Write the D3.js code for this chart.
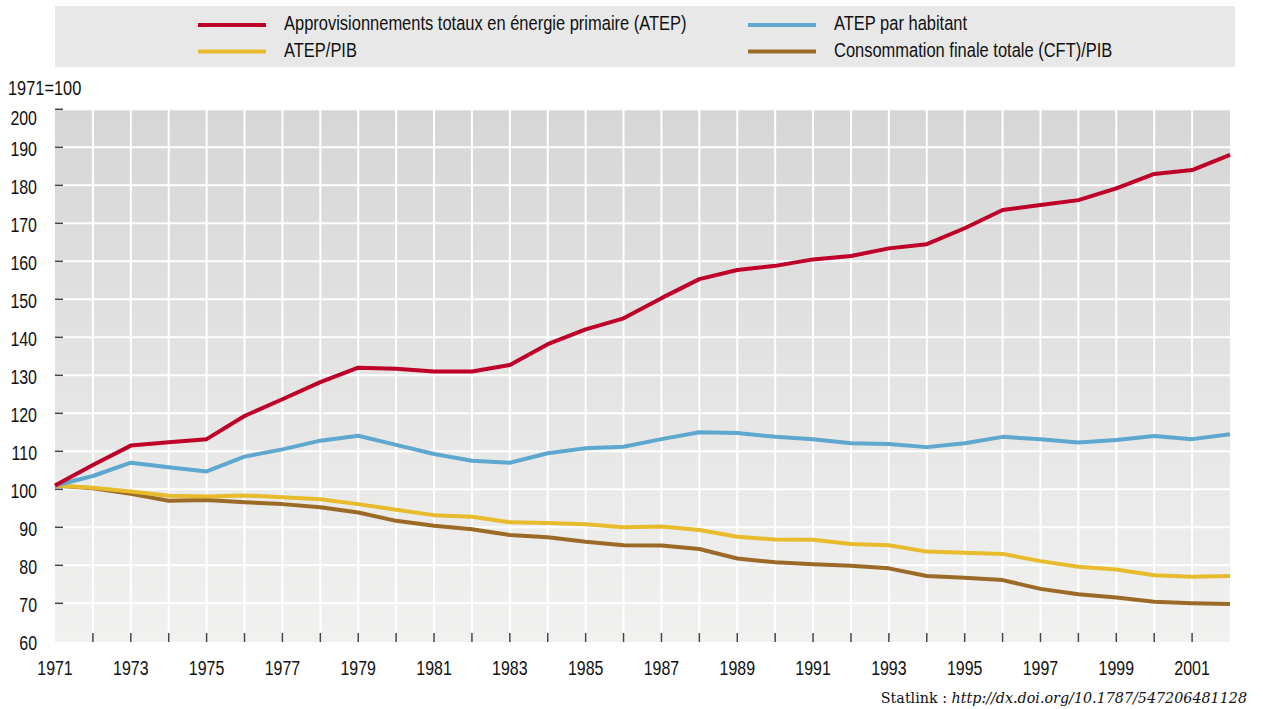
<!DOCTYPE html>
<html>
<head>
<meta charset="utf-8">
<script src="https://cdn.jsdelivr.net/npm/d3@7"></script>
<style>
  html, body { margin: 0; padding: 0; background: #fff; }
  svg { display: block; }
  .cond { font-family: "Liberation Sans", Arial, sans-serif; fill: #111; }
</style>
</head>
<body>
<svg id="chart" width="1263" height="709"></svg>
<script>
// Années
const years = d3.range(1971, 2003);

// Indices 1971=100
const atep = [101, 106.4, 111.5, 112.4, 113.2, 119.3, 123.7, 128.2, 132.0, 131.7, 131.0,
  131.0, 132.7, 138.2, 142.1, 145.0, 150.3, 155.3, 157.7, 158.8, 160.5,
  161.4, 163.4, 164.5, 168.7, 173.5, 174.8, 176.1, 179.2, 183.0, 184.0, 188.0];
const atepHab = [101, 103.5, 107.0, 105.8, 104.7, 108.6, 110.5, 112.8, 114.1, 111.7, 109.3,
  107.5, 107.0, 109.5, 110.8, 111.2, 113.2, 115.0, 114.8, 113.8, 113.2,
  112.1, 111.9, 111.1, 112.1, 113.8, 113.2, 112.3, 113.0, 114.0, 113.2, 114.5];
const atepPib = [101, 100.4, 99.4, 98.3, 98.1, 98.4, 97.9, 97.4, 96.1, 94.6, 93.2,
  92.8, 91.3, 91.1, 90.8, 90.0, 90.2, 89.3, 87.5, 86.8, 86.7,
  85.6, 85.3, 83.6, 83.3, 83.0, 81.1, 79.6, 78.9, 77.4, 77.0, 77.2];
const cftPib = [101, 100.3, 98.8, 97.0, 97.2, 96.6, 96.1, 95.3, 93.9, 91.7, 90.4,
  89.5, 88.0, 87.4, 86.2, 85.3, 85.2, 84.3, 81.8, 80.8, 80.3,
  79.9, 79.2, 77.2, 76.7, 76.1, 73.8, 72.4, 71.5, 70.4, 70.0, 69.8];

const seriesNames = [
  "Approvisionnements totaux en énergie primaire (ATEP)",
  "ATEP par habitant",
  "ATEP/PIB",
  "Consommation finale totale (CFT)/PIB"
];
const seriesColors = ["#be0029", "#5ea7cf", "#e7bb2b", "#9c6a27"];
const yTicks = [60, 70, 80, 90, 100, 110, 120, 130, 140, 150, 160, 170, 180, 190, 200];
const xLabelYears = d3.range(1971, 2003, 2);

const series = [atep, atepHab, atepPib, cftPib].map((vals, i) => ({
  name: seriesNames[i], color: seriesColors[i],
  points: vals.map((v, j) => ({ year: years[j], value: v }))
}));

const svg = d3.select("#chart");
const plot = { left: 55, right: 1230, top: 109, bottom: 642 };

const x = d3.scaleLinear().domain([1971, 2002]).range([plot.left, plot.right]);
const y = d3.scaleLinear().domain([60, 200]).range([641.3, 109.3]);

// Texte condensé : police normale resserrée horizontalement
function condensed(sel, px, py, sx) {
  return sel.attr("x", 0).attr("y", 0)
    .attr("transform", (d, i) => `translate(${px(d, i)},${py(d, i)}) scale(${sx},1)`);
}

// Fond dégradé de la zone de tracé
const defs = svg.append("defs");
const grad = defs.append("linearGradient").attr("id", "bg").attr("x1", 0).attr("y1", 0).attr("x2", 0).attr("y2", 1);
grad.append("stop").attr("offset", "0%").attr("stop-color", "#d6d6d6");
grad.append("stop").attr("offset", "100%").attr("stop-color", "#f1f1f0");

svg.append("rect")
  .attr("x", plot.left).attr("y", plot.top)
  .attr("width", plot.right - plot.left).attr("height", plot.bottom - plot.top)
  .attr("fill", "url(#bg)");

// Quadrillage blanc
svg.append("g").selectAll("line").data(years.slice(1, -1)).join("line")
  .attr("x1", d => x(d)).attr("x2", d => x(d))
  .attr("y1", plot.top).attr("y2", plot.bottom)
  .attr("stroke", "#fff").attr("stroke-width", 2);
svg.append("g").selectAll("line").data(yTicks.slice(1)).join("line")
  .attr("x1", plot.left).attr("x2", plot.right)
  .attr("y1", d => y(d)).attr("y2", d => y(d))
  .attr("stroke", "#fff").attr("stroke-width", 2);

// Graduations
svg.append("g").selectAll("line").data(yTicks.slice(1)).join("line")
  .attr("x1", plot.left).attr("x2", plot.left + 8)
  .attr("y1", d => y(d)).attr("y2", d => y(d))
  .attr("stroke", "#444").attr("stroke-width", 1.5);
svg.append("g").selectAll("line").data(years.slice(1, -1)).join("line")
  .attr("x1", d => x(d)).attr("x2", d => x(d))
  .attr("y1", plot.bottom - 9).attr("y2", plot.bottom)
  .attr("stroke", "#444").attr("stroke-width", 1.5);

// Étiquettes des axes
condensed(
  svg.append("g").attr("class", "cond").selectAll("text").data(yTicks).join("text")
    .attr("text-anchor", "end").attr("font-size", 21).text(d => d),
  () => 37, d => y(d) + (d === 200 ? 15.5 : 8.5), 0.76);
condensed(
  svg.append("g").attr("class", "cond").selectAll("text").data(xLabelYears).join("text")
    .attr("text-anchor", "middle").attr("font-size", 21).text(d => d),
  d => x(d), () => 675, 0.76);
condensed(
  svg.append("g").attr("class", "cond").selectAll("text").data(["1971=100"]).join("text")
    .attr("font-size", 21).text(d => d),
  () => 8, () => 95, 0.78);

// Courbes
const line = d3.line().x(d => x(d.year)).y(d => y(d.value));
svg.append("g").selectAll("path").data([...series].reverse()).join("path")
  .attr("d", d => line(d.points))
  .attr("fill", "none").attr("stroke", d => d.color)
  .attr("stroke-width", 4).attr("stroke-linejoin", "round");

// Légende
svg.append("rect").attr("x", 55).attr("y", 6).attr("width", 1180).attr("height", 61).attr("fill", "#e8e8e8");
const legendPos = [
  { lx: 198, tx: 284, ly: 25 },
  { lx: 748, tx: 834, ly: 25 },
  { lx: 198, tx: 284, ly: 51.5 },
  { lx: 748, tx: 834, ly: 51.5 }
];
const lg = svg.append("g");
lg.selectAll("line").data(series).join("line")
  .attr("x1", (d, i) => legendPos[i].lx).attr("x2", (d, i) => legendPos[i].lx + 68)
  .attr("y1", (d, i) => legendPos[i].ly).attr("y2", (d, i) => legendPos[i].ly)
  .attr("stroke", d => d.color).attr("stroke-width", 4);
condensed(
  lg.append("g").attr("class", "cond").selectAll("text").data(series).join("text")
    .attr("font-size", 19.5).text(d => d.name),
  (d, i) => legendPos[i].tx, (d, i) => legendPos[i].ly + 5.3, 0.845);

// Statlink
const st = svg.append("text").attr("x", 1247).attr("y", 703).attr("text-anchor", "end")
  .attr("font-family", "'DejaVu Serif', 'Liberation Serif', serif").attr("font-size", 14.3).attr("fill", "#111");
st.append("tspan").text("Statlink : ");
st.append("tspan").attr("font-style", "italic").text("http://dx.doi.org/10.1787/547206481128");
</script>
</body>
</html>
